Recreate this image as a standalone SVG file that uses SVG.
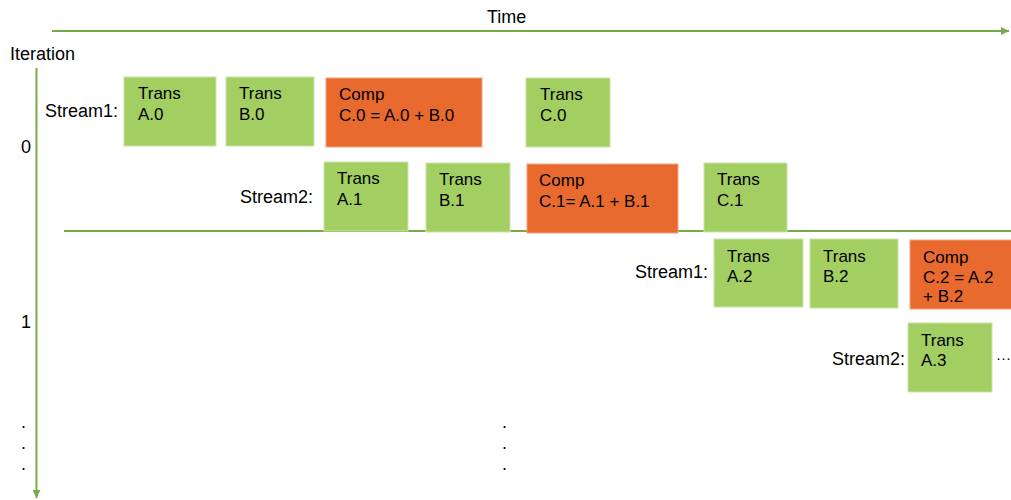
<svg xmlns="http://www.w3.org/2000/svg" width="1011" height="500" viewBox="0 0 1011 500">
<style>
text{font-family:"Liberation Sans",Arial,sans-serif;fill:#000}
.lbl{font-size:18px}
.bx{font-size:17px}
.dt{font-size:15px}
.tr{fill:#A3CE62;stroke:#C9E4A6;stroke-width:1}
.cp{fill:#E96A2E;stroke:#F2A27C;stroke-width:1}
.ax{stroke:#78A94A;stroke-width:2;fill:none}
</style>
<defs>
<marker id="ah" viewBox="0 0 10 10" refX="10" refY="5" markerWidth="4" markerHeight="4" orient="auto" markerUnits="strokeWidth">
<path d="M0,0 L10,5 L0,10 z" fill="#78A94A"/>
</marker>
</defs>
<g id="connectors">
<line class="ax" x1="52" y1="31" x2="1009" y2="31" marker-end="url(#ah)"/>
<line class="ax" x1="36.5" y1="68" x2="36.5" y2="498" marker-end="url(#ah)"/>
<line class="ax" x1="64" y1="231" x2="1011" y2="231"/>
</g>
<g id="labels">
<text class="lbl" x="487" y="23">Time</text>
<text class="lbl" x="10" y="60">Iteration</text>
<text class="lbl" x="21" y="153">0</text>
<text class="lbl" x="21" y="328">1</text>
<text class="lbl" x="45" y="117">Stream1:</text>
<text class="lbl" x="240" y="203">Stream2:</text>
<text class="lbl" x="635" y="278">Stream1:</text>
<text class="lbl" x="832" y="365">Stream2:</text>
<text class="dt" x="996" y="363">···</text>
<text class="lbl" x="21" y="428">.</text>
<text class="lbl" x="21" y="449">.</text>
<text class="lbl" x="21" y="470">.</text>
<text class="lbl" x="502" y="428">.</text>
<text class="lbl" x="502" y="449">.</text>
<text class="lbl" x="502" y="470">.</text>
</g>
<g id="transA0"><rect class="tr" x="124" y="77" width="92" height="69"/><text class="bx" x="138" y="99">Trans</text><text class="bx" x="138" y="120">A.0</text></g>
<g id="transB0"><rect class="tr" x="226" y="77" width="88" height="69"/><text class="bx" x="239" y="99">Trans</text><text class="bx" x="239" y="120">B.0</text></g>
<g id="compC0"><rect class="cp" x="326" y="78" width="156" height="69"/><text class="bx" x="339" y="100">Comp</text><text class="bx" x="339" y="121">C.0 = A.0 + B.0</text></g>
<g id="transC0"><rect class="tr" x="526" y="78" width="84" height="69"/><text class="bx" x="540" y="100">Trans</text><text class="bx" x="540" y="121">C.0</text></g>
<g id="transA1"><rect class="tr" x="324" y="162" width="84" height="69"/><text class="bx" x="337" y="184">Trans</text><text class="bx" x="337" y="205">A.1</text></g>
<g id="transB1"><rect class="tr" x="426" y="163" width="84" height="69"/><text class="bx" x="439" y="185">Trans</text><text class="bx" x="439" y="206">B.1</text></g>
<g id="compC1"><rect class="cp" x="527" y="164" width="151" height="69"/><text class="bx" x="539" y="186">Comp</text><text class="bx" x="539" y="207">C.1= A.1 + B.1</text></g>
<g id="transC1"><rect class="tr" x="704" y="163" width="83" height="69"/><text class="bx" x="717" y="185">Trans</text><text class="bx" x="717" y="206">C.1</text></g>
<g id="transA2"><rect class="tr" x="714" y="239" width="89" height="68"/><text class="bx" x="727" y="262">Trans</text><text class="bx" x="727" y="282">A.2</text></g>
<g id="transB2"><rect class="tr" x="810" y="239" width="88" height="69"/><text class="bx" x="823" y="262">Trans</text><text class="bx" x="823" y="282">B.2</text></g>
<g id="compC2"><rect class="cp" x="910" y="240" width="104" height="69"/><text class="bx" x="923" y="263">Comp</text><text class="bx" x="923" y="283">C.2 = A.2</text><text class="bx" x="923" y="302">+ B.2</text></g>
<g id="transA3"><rect class="tr" x="908" y="323" width="84" height="69"/><text class="bx" x="921" y="346">Trans</text><text class="bx" x="921" y="366">A.3</text></g>
</svg>
